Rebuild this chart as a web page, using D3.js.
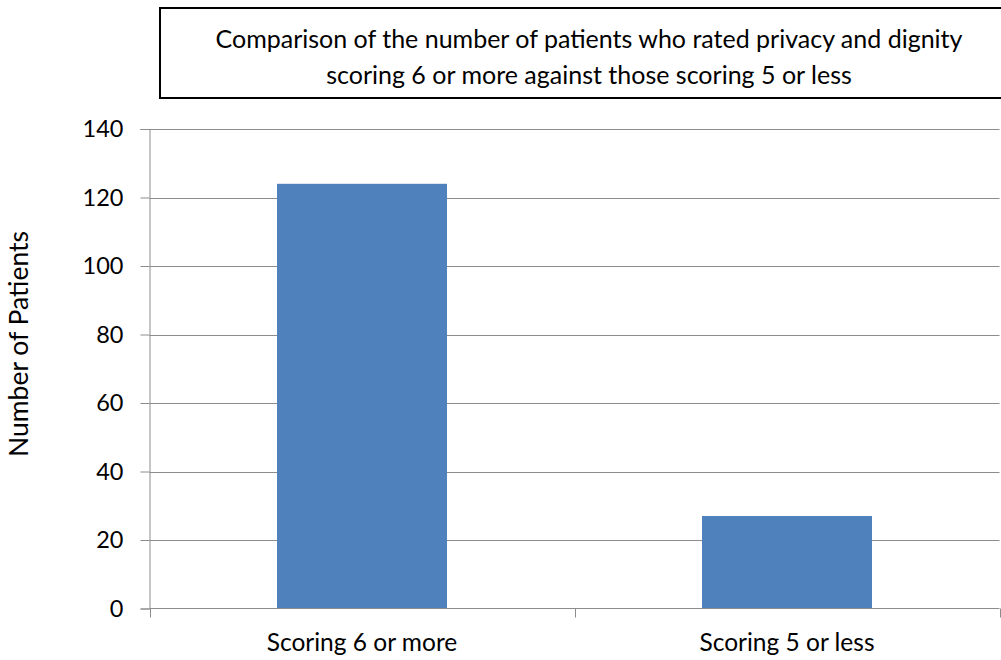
<!DOCTYPE html>
<html>
<head>
<meta charset="utf-8">
<script src="https://cdn.jsdelivr.net/npm/d3@7"></script>
<style>
  html, body { margin: 0; padding: 0; background: #fff; }
  svg { display: block; }
  text { font-family: Lato, "Open Sans", sans-serif; fill: #000; }
</style>
</head>
<body>
<svg id="chart" width="1001" height="660"></svg>
<script>
// Chart data
const categories = ["Scoring 6 or more", "Scoring 5 or less"];
const patientCounts = [124, 27];
const yTicks = [0, 20, 40, 60, 80, 100, 120, 140];
const titleLines = [
  "Comparison of the number of patients who rated privacy and dignity",
  "scoring 6 or more against those scoring 5 or less"
];
const yAxisTitle = "Number of Patients";

const svg = d3.select("#chart");
const plot = { left: 149.5, right: 999.5, top: 129, bottom: 608.5 };

const x = d3.scaleBand()
  .domain(categories)
  .range([plot.left, plot.right])
  .paddingInner(0.6)
  .paddingOuter(0.3);

const y = d3.scaleLinear()
  .domain([0, 140])
  .range([plot.bottom, plot.top]);

// Title box
svg.append("rect")
  .attr("x", 160).attr("y", 8)
  .attr("width", 860).attr("height", 90)
  .attr("fill", "#fff")
  .attr("stroke", "#000").attr("stroke-width", 2);

svg.selectAll("text.title")
  .data(titleLines)
  .join("text")
  .attr("class", "title")
  .attr("x", 589)
  .attr("y", (d, i) => 48 + i * 36)
  .attr("text-anchor", "middle")
  .attr("font-size", 25)
  .text(d => d);

// Horizontal gridlines
svg.append("g")
  .selectAll("line")
  .data(yTicks.filter(t => t > 0))
  .join("line")
  .attr("x1", plot.left).attr("x2", plot.right)
  .attr("y1", d => Math.round(y(d)) + 0.5)
  .attr("y2", d => Math.round(y(d)) + 0.5)
  .attr("stroke", "#8c8c8c").attr("stroke-width", 1);

// Bars
svg.append("g")
  .selectAll("rect")
  .data(categories)
  .join("rect")
  .attr("x", d => x(d))
  .attr("width", x.bandwidth())
  .attr("y", (d, i) => y(patientCounts[i]))
  .attr("height", (d, i) => y(0) - y(patientCounts[i]))
  .attr("fill", "#4f81bd");

// Y axis
const yAxis = svg.append("g")
  .attr("transform", `translate(${plot.left},0)`)
  .call(d3.axisLeft(y).tickValues(yTicks).tickSize(9).tickPadding(17));
yAxis.select(".domain").attr("stroke", "#8c8c8c");
yAxis.selectAll(".tick line").attr("stroke", "#8c8c8c");
yAxis.selectAll(".tick text")
  .attr("font-size", 23.5)
  .attr("font-family", "Lato, 'Open Sans', sans-serif")
  .attr("fill", "#000");

// X axis with boundary ticks between categories
const xAxisG = svg.append("g")
  .attr("transform", `translate(0,${plot.bottom})`);
xAxisG.append("line")
  .attr("x1", plot.left).attr("x2", plot.right)
  .attr("stroke", "#8c8c8c");
const step = x.step();
const boundaries = d3.range(categories.length + 1).map(i => plot.left + i * step);
xAxisG.selectAll("line.bound")
  .data(boundaries)
  .join("line")
  .attr("class", "bound")
  .attr("x1", d => Math.round(d) + 0.5).attr("x2", d => Math.round(d) + 0.5)
  .attr("y1", 0).attr("y2", 9)
  .attr("stroke", "#8c8c8c");
xAxisG.selectAll("text")
  .data(categories)
  .join("text")
  .attr("x", d => x(d) + x.bandwidth() / 2)
  .attr("y", 42.5)
  .attr("text-anchor", "middle")
  .attr("font-size", 24.5)
  .text(d => d);

// Y axis title
svg.append("text")
  .attr("transform", "translate(28,344) rotate(-90)")
  .attr("text-anchor", "middle")
  .attr("font-size", 26.5)
  .text(yAxisTitle);
</script>
</body>
</html>
